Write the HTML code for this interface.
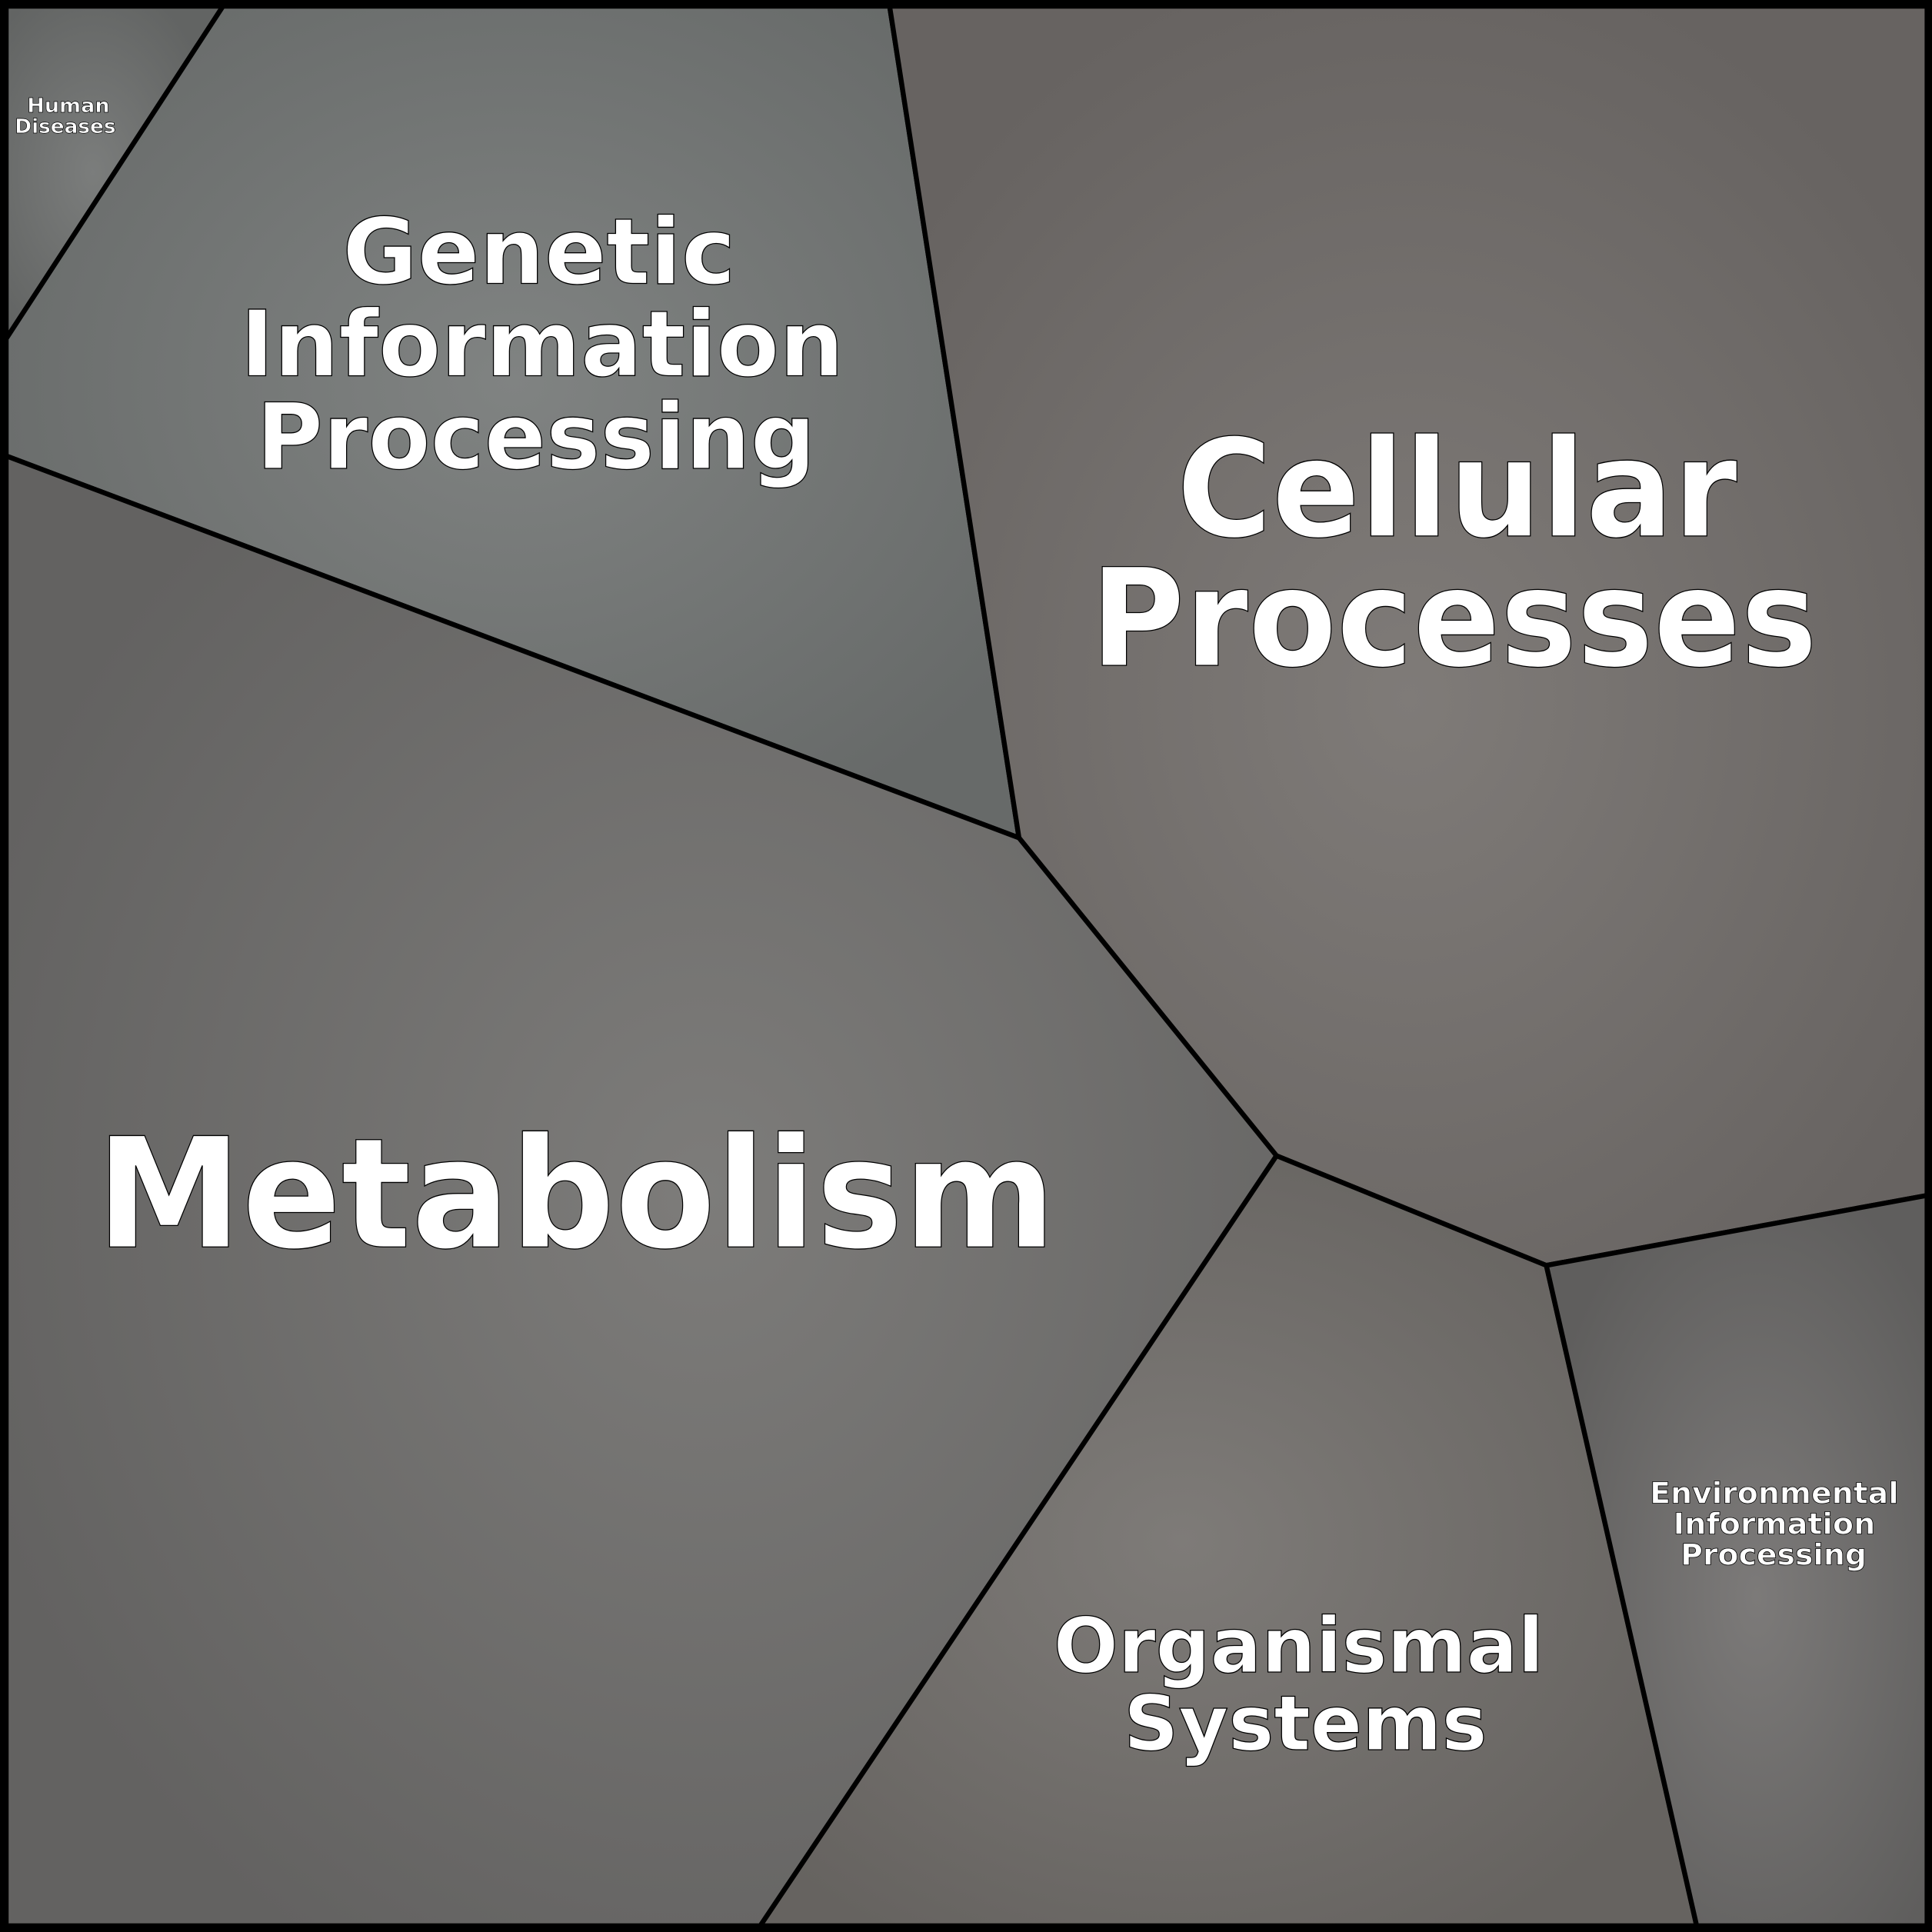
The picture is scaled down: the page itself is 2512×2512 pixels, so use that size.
<!DOCTYPE html>
<html><head><meta charset="utf-8"><style>html,body{margin:0;padding:0;background:#fff}svg{display:block}</style></head>
<body>
<svg xmlns="http://www.w3.org/2000/svg" width="2512" height="2512" viewBox="0 0 1568 1568">
<defs>
<radialGradient id="gh" cx="0.4" cy="0.5" r="0.6"><stop offset="0" stop-color="#7b7d7c"/><stop offset="1" stop-color="#626463"/></radialGradient>
<radialGradient id="gg" cx="0.5" cy="0.45" r="0.6"><stop offset="0" stop-color="#808382"/><stop offset="1" stop-color="#676a69"/></radialGradient>
<radialGradient id="gc" cx="0.5" cy="0.55" r="0.6"><stop offset="0" stop-color="#7f7b78"/><stop offset="1" stop-color="#676361"/></radialGradient>
<radialGradient id="gm" cx="0.55" cy="0.5" r="0.6"><stop offset="0" stop-color="#7d7c7a"/><stop offset="1" stop-color="#636261"/></radialGradient>
<radialGradient id="go" cx="0.45" cy="0.5" r="0.6"><stop offset="0" stop-color="#7e7b78"/><stop offset="1" stop-color="#666360"/></radialGradient>
<radialGradient id="ge" cx="0.55" cy="0.55" r="0.6"><stop offset="0" stop-color="#7c7a79"/><stop offset="1" stop-color="#5f5e5d"/></radialGradient>
</defs>
<g stroke="#000" stroke-width="4" stroke-linejoin="round">
<polygon points="5,5 181,5 5,275" fill="url(#gh)"/>
<polygon points="181,5 722,5 827,680 5,370 5,275" fill="url(#gg)"/>
<polygon points="722,5 1565,5 1565,970 1255,1027 1036,938 827,680" fill="url(#gc)"/>
<polygon points="5,370 827,680 1036,938 617,1563 5,1563" fill="url(#gm)"/>
<polygon points="1036,938 1255,1027 1377,1563 617,1563" fill="url(#go)"/>
<polygon points="1255,1027 1565,970 1565,1563 1377,1563" fill="url(#ge)"/>
</g>
<rect x="3" y="3" width="1562" height="1562" fill="none" stroke="#000" stroke-width="6"/>
<g font-family="'DejaVu Sans','Liberation Sans',sans-serif" font-weight="bold" fill="#fff" stroke="#000" stroke-width="0.8" lengthAdjust="spacingAndGlyphs">
<text x="22" y="91" font-size="16" textLength="67" lengthAdjust="spacingAndGlyphs" stroke-width="0.4">Human</text>
<text x="12" y="108" font-size="16" textLength="82" lengthAdjust="spacingAndGlyphs" stroke-width="0.4">Diseases</text>
<text x="278" y="230" font-size="74" textLength="319" lengthAdjust="spacingAndGlyphs">Genetic</text>
<text x="195" y="305" font-size="74" textLength="490" lengthAdjust="spacingAndGlyphs">Information</text>
<text x="208" y="380" font-size="74" textLength="454" lengthAdjust="spacingAndGlyphs">Processing</text>
<text x="955" y="435" font-size="110" textLength="455" lengthAdjust="spacingAndGlyphs">Cellular</text>
<text x="885" y="540" font-size="110" textLength="590" lengthAdjust="spacingAndGlyphs">Processes</text>
<text x="78" y="1012" font-size="124" textLength="779" lengthAdjust="spacingAndGlyphs">Metabolism</text>
<text x="855" y="1357" font-size="62" textLength="398" lengthAdjust="spacingAndGlyphs">Organismal</text>
<text x="912" y="1420" font-size="62" textLength="295" lengthAdjust="spacingAndGlyphs">Systems</text>
<text x="1339" y="1220" font-size="24" textLength="202" lengthAdjust="spacingAndGlyphs" stroke-width="0.5">Environmental</text>
<text x="1358" y="1245" font-size="24" textLength="164" lengthAdjust="spacingAndGlyphs" stroke-width="0.5">Information</text>
<text x="1364" y="1270" font-size="24" textLength="151" lengthAdjust="spacingAndGlyphs" stroke-width="0.5">Processing</text>
</g>
</svg>
</body></html>
